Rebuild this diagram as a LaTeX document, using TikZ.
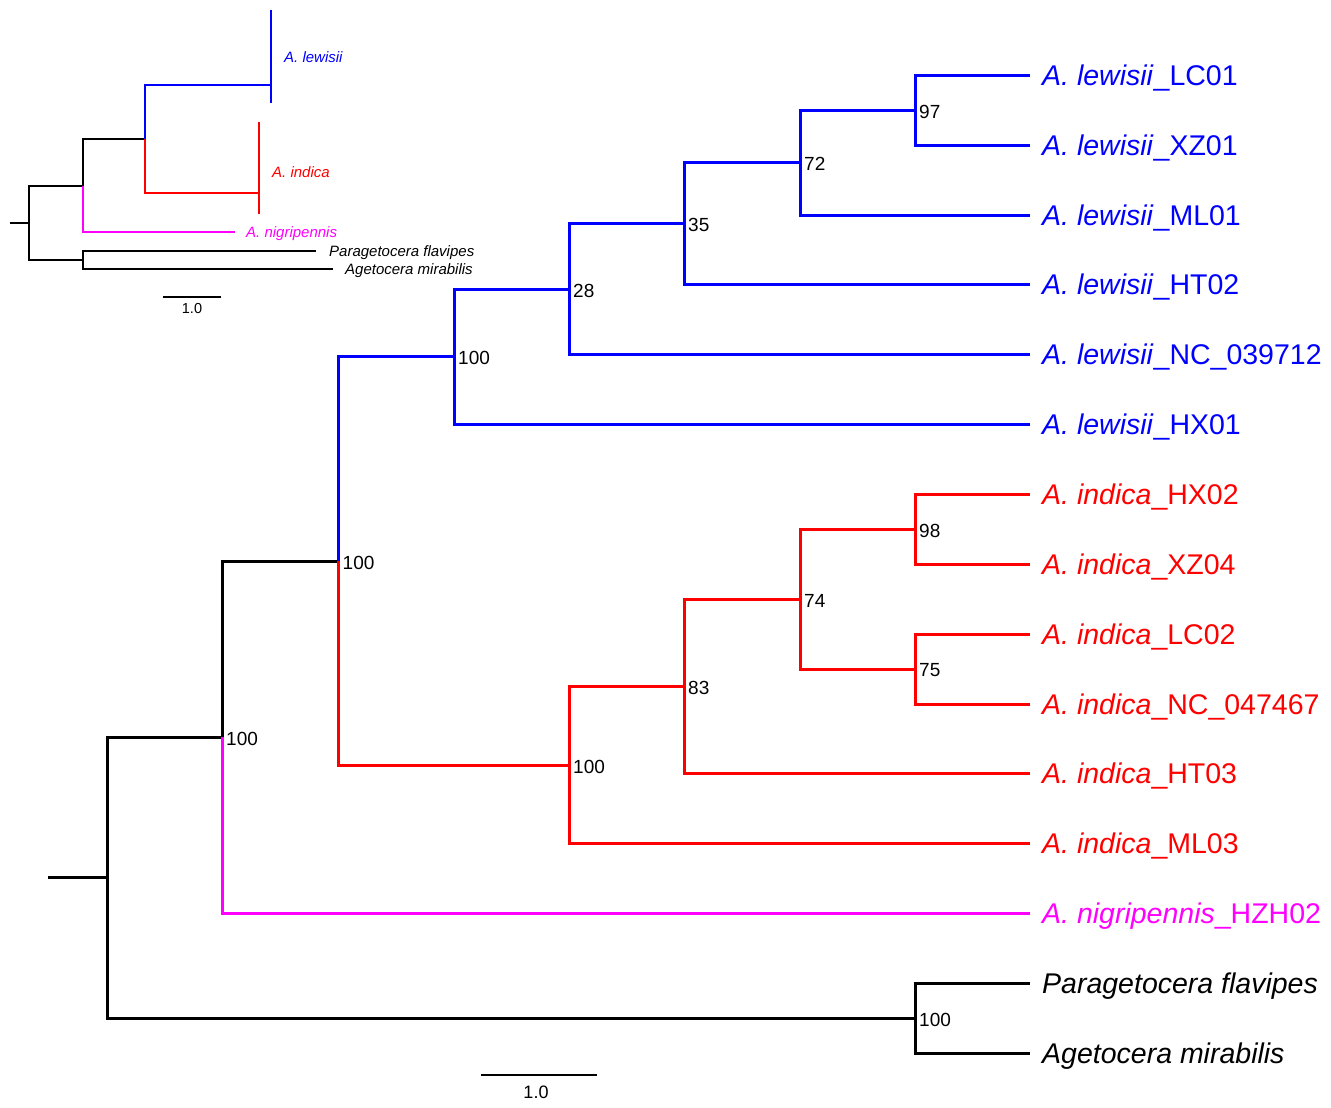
\documentclass[tikz,border=0pt]{standalone}
\usepackage{fontspec}
\setmainfont{Liberation Sans}
\definecolor{tblue}{RGB}{0,0,255}
\definecolor{tred}{RGB}{255,0,0}
\definecolor{tmag}{RGB}{255,0,255}
\newcommand{\tipfont}{\fontsize{28.5}{30}\selectfont}
\newcommand{\bootfont}{\fontsize{19}{21}\selectfont}
\newcommand{\insfont}{\fontsize{15}{17}\selectfont}
\begin{document}
\begin{tikzpicture}[x=1pt,y=-1pt,
  br/.style={line width=3pt},
  ib/.style={line width=1.6pt},
  blk/.style={draw=black},
  blu/.style={draw=tblue},
  rd/.style={draw=tred},
  mg/.style={draw=tmag},
  tiplab/.style={anchor=base west,inner sep=0pt,font=\tipfont,xshift=12pt,yshift=-10pt},
  boot/.style={anchor=west,inner sep=0pt,font=\bootfont,xshift=4pt,yshift=-1.5pt},
  inslab/.style={anchor=base west,inner sep=0pt,font=\insfont\itshape},
  sclab/.style={inner sep=0pt}
]
\fill[white] (0,0) rectangle (1331,1108);
\useasboundingbox (0,0) rectangle (1331,1108);

% ---------------- main tree ----------------
\coordinate (root0) at (48,877.8);
\coordinate (root) at (107,877.8);
\coordinate (n100d) at (222,737.3);
\coordinate (n100c) at (338.5,561);
\coordinate (n100a) at (454,356.9);
\coordinate (n28) at (569,289.2);
\coordinate (n35) at (684,223.8);
\coordinate (n72) at (800,162.6);
\coordinate (n97) at (915,110.2);
\coordinate (n100b) at (569,765.1);
\coordinate (n83) at (684,686.5);
\coordinate (n74) at (800,599.2);
\coordinate (n98) at (915,529.3);
\coordinate (n75) at (915,669);
\coordinate (n100e) at (915,1018.3);

\coordinate (tLC01) at (1030,75.3);
\coordinate (tXZ01) at (1030,145.2);
\coordinate (tML01) at (1030,215.0);
\coordinate (tHT02) at (1030,284.9);
\coordinate (tNC39) at (1030,354.7);
\coordinate (tHX01) at (1030,424.6);
\coordinate (tHX02) at (1030,494.4);
\coordinate (tXZ04) at (1030,564.3);
\coordinate (tLC02) at (1030,634.1);
\coordinate (tNC47) at (1030,704.0);
\coordinate (tHT03) at (1030,773.8);
\coordinate (tML03) at (1030,843.7);
\coordinate (tHZH) at (1030,913.5);
\coordinate (tPF) at (1030,983.4);
\coordinate (tAM) at (1030,1053.2);

\begin{scope}[br]
\draw[blk] (root0) -- (root);
\draw[blk] (root) |- (n100d);
\draw[blk] (root) |- (n100e);
\draw[blk] (n100d) |- (n100c);
\draw[mg] (n100d) |- (tHZH);
\draw[blu] (n100c) |- (n100a);
\draw[rd] (n100c) |- (n100b);
\draw[blu] (n100a) |- (n28);
\draw[blu] (n100a) |- (tHX01);
\draw[blu] (n28) |- (n35);
\draw[blu] (n28) |- (tNC39);
\draw[blu] (n35) |- (n72);
\draw[blu] (n35) |- (tHT02);
\draw[blu] (n72) |- (n97);
\draw[blu] (n72) |- (tML01);
\draw[blu] (n97) |- (tLC01);
\draw[blu] (n97) |- (tXZ01);
\draw[rd] (n100b) |- (n83);
\draw[rd] (n100b) |- (tML03);
\draw[rd] (n83) |- (n74);
\draw[rd] (n83) |- (tHT03);
\draw[rd] (n74) |- (n98);
\draw[rd] (n74) |- (n75);
\draw[rd] (n98) |- (tHX02);
\draw[rd] (n98) |- (tXZ04);
\draw[rd] (n75) |- (tLC02);
\draw[rd] (n75) |- (tNC47);
\draw[blk] (n100e) |- (tPF);
\draw[blk] (n100e) |- (tAM);
\end{scope}

% bootstrap values
\node[boot] (b97) at (n97) {97};
\node[boot] (b72) at (n72) {72};
\node[boot] (b35) at (n35) {35};
\node[boot] (b28) at (n28) {28};
\node[boot] (b100a) at (n100a) {100};
\node[boot] (b100c) at (n100c) {100};
\node[boot] (b100d) at (n100d) {100};
\node[boot] (b98) at (n98) {98};
\node[boot] (b75) at (n75) {75};
\node[boot] (b74) at (n74) {74};
\node[boot] (b83) at (n83) {83};
\node[boot] (b100b) at (n100b) {100};
\node[boot] (b100e) at (n100e) {100};

% tip labels
\node[tiplab,text=tblue] (lLC01) at (tLC01) {\textit{A. lewisii}\_LC01};
\node[tiplab,text=tblue] (lXZ01) at (tXZ01) {\textit{A. lewisii}\_XZ01};
\node[tiplab,text=tblue] (lML01) at (tML01) {\textit{A. lewisii}\_ML01};
\node[tiplab,text=tblue] (lHT02) at (tHT02) {\textit{A. lewisii}\_HT02};
\node[tiplab,text=tblue] (lNC39) at (tNC39) {\textit{A. lewisii}\_NC\_039712};
\node[tiplab,text=tblue] (lHX01) at (tHX01) {\textit{A. lewisii}\_HX01};
\node[tiplab,text=tred] (lHX02) at (tHX02) {\textit{A. indica}\_HX02};
\node[tiplab,text=tred] (lXZ04) at (tXZ04) {\textit{A. indica}\_XZ04};
\node[tiplab,text=tred] (lLC02) at (tLC02) {\textit{A. indica}\_LC02};
\node[tiplab,text=tred] (lNC47) at (tNC47) {\textit{A. indica}\_NC\_047467};
\node[tiplab,text=tred] (lHT03) at (tHT03) {\textit{A. indica}\_HT03};
\node[tiplab,text=tred] (lML03) at (tML03) {\textit{A. indica}\_ML03};
\node[tiplab,text=tmag] (lHZH) at (tHZH) {\textit{A. nigripennis}\_HZH02};
\node[tiplab] (lPF) at (tPF) {\textit{Paragetocera flavipes}};
\node[tiplab] (lAM) at (tAM) {\textit{Agetocera mirabilis}};

% scale bar
\coordinate (sbL) at (481,1075);
\coordinate (sbR) at (597,1075);
\draw[line width=2.4pt] (sbL) -- (sbR);
\node[sclab,font=\fontsize{18}{20}\selectfont] (sbT) at (536,1092.5) {1.0};

% ---------------- inset ----------------
\coordinate (iroot0) at (10,223);
\coordinate (iroot) at (29,223);
\coordinate (iA) at (83,186);
\coordinate (iB) at (145,139);
\coordinate (ilew) at (271,85);
\coordinate (ilewT) at (271,10);
\coordinate (ilewB) at (271,103);
\coordinate (iind) at (259,193);
\coordinate (iindT) at (259,122);
\coordinate (iindB) at (259,214);
\coordinate (inig) at (235,232);
\coordinate (iO) at (83,260);
\coordinate (ipf) at (316,251);
\coordinate (iam) at (333,269);

\begin{scope}[ib]
\draw[blk] (iroot0) -- (iroot);
\draw[blk] (iroot) |- (iA);
\draw[blk] (iroot) |- (iO);
\draw[blk] (iA) |- (iB);
\draw[mg] (iA) |- (inig);
\draw[blu] (iB) |- (ilew);
\draw[rd] (iB) |- (iind);
\draw[blu] (ilewT) -- (ilewB);
\draw[rd] (iindT) -- (iindB);
\draw[blk] (iO) |- (ipf);
\draw[blk] (iO) |- (iam);
\end{scope}

\node[inslab,text=tblue] (ilewl) at (284,63) {A. lewisii};
\node[inslab,text=tred] (iindl) at (272,177) {A. indica};
\node[inslab,text=tmag] (inigl) at (246,237) {A. nigripennis};
\node[inslab] (ipfl) at (329,256) {Paragetocera flavipes};
\node[inslab] (iaml) at (345,274) {Agetocera mirabilis};

\coordinate (isbL) at (163,297);
\coordinate (isbR) at (221,297);
\draw[line width=1.4pt] (isbL) -- (isbR);
\node[sclab,font=\fontsize{14.5}{16}\selectfont] (isbT) at (192,308.5) {1.0};
\end{tikzpicture}
\end{document}
